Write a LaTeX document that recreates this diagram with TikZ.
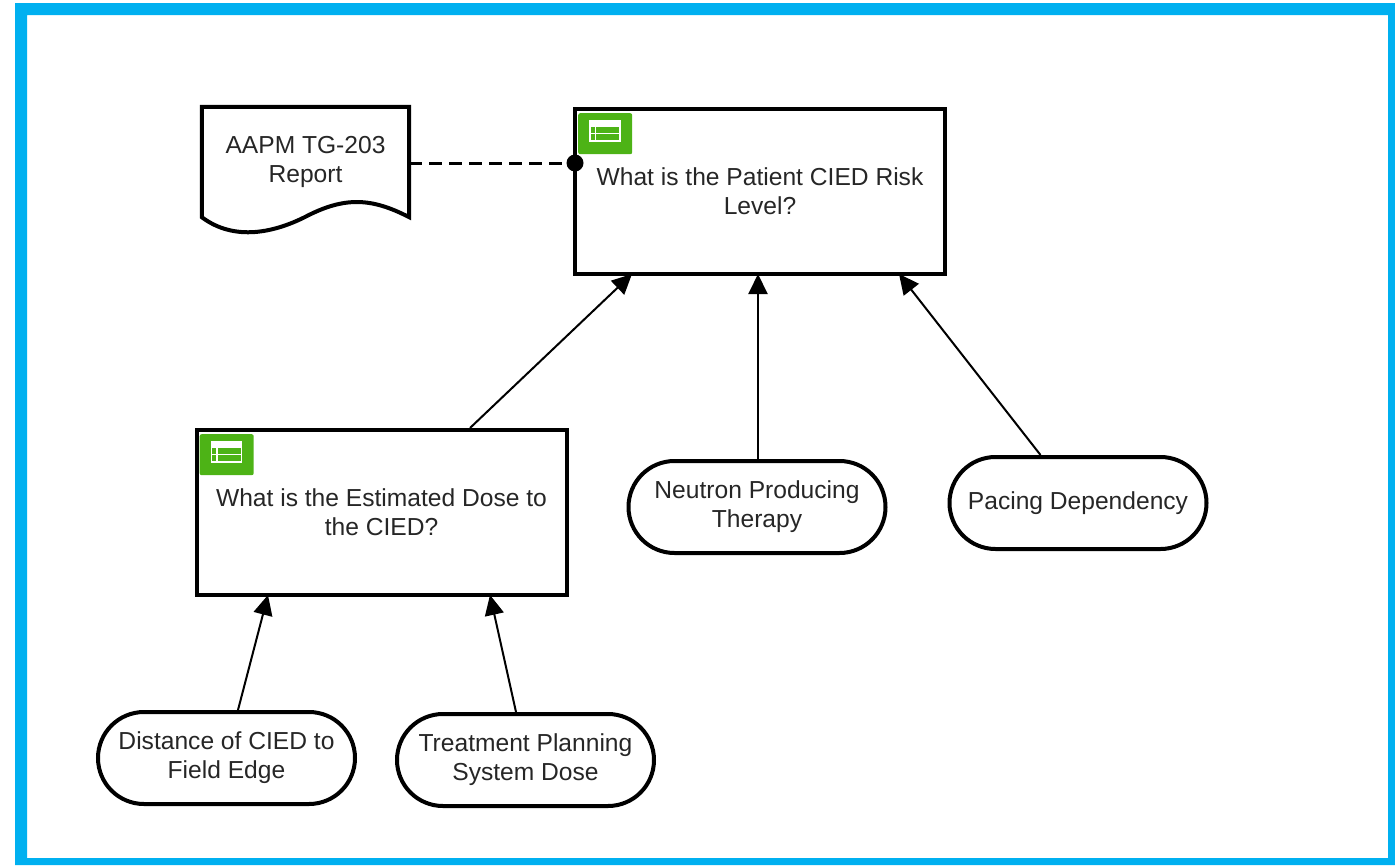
\documentclass[tikz,border=0pt]{standalone}
\usepackage{fontspec}
\setmainfont{Liberation Sans}
\usetikzlibrary{arrows.meta, positioning, calc}
\definecolor{frameblue}{HTML}{00B0F0}
\definecolor{icongreen}{HTML}{4DB316}
\definecolor{labelgray}{HTML}{262626}
\tikzset{%
	lbl/.style={text=labelgray, align=center, inner sep=0mm,%
		font=\fontsize{24.6}{29}\selectfont},
	question/.style={lbl, draw, line width=4pt, rectangle,%
		minimum width=370pt, minimum height=165pt},
	pill/.style={lbl, draw, line width=4pt, rectangle,%
		rounded corners=46pt, minimum width=257pt, minimum height=92pt},
	doc/.style={lbl, minimum width=207pt, minimum height=110pt},
	docline/.style={line width=4pt},
	iconbox/.style={fill=icongreen, rounded corners=2pt, inner sep=0mm,%
		minimum width=54pt, minimum height=41pt},
	link/.style={line width=2pt, -{Triangle[length=20pt, width=19pt]}},
	refline/.style={line width=3pt, dash pattern=on 13pt off 7pt},
	dot/.style={circle, fill=black, inner sep=0mm, minimum size=17pt}
}
% white table glyph, drawn inside a green box
\newcommand{\tableglyph}[1]{%
	\draw[white, line width=1.5pt] ([shift={(-15,-13)}]#1.center) rectangle ([shift={(15,7.5)}]#1.center);
	\fill[white] ([shift={(-15,-13)}]#1.center) rectangle ([shift={(15,-6.5)}]#1.center);
	\draw[white, line width=1.5pt] ([shift={(-15,0)}]#1.center) -- ([shift={(15,0)}]#1.center);
	\draw[white, line width=1.5pt] ([shift={(-9.5,-6.5)}]#1.center) -- ([shift={(-9.5,7.5)}]#1.center);
}

\begin{document}
\begin{tikzpicture}[x=1pt, y=-1pt]
	\useasboundingbox (0,0) rectangle (1395,865);
	\fill[frameblue, even odd rule] (15,3) rectangle (1395,865) (27,15) rectangle (1388,858);

	\node[question]                      (risk)     at (760,191.5) {What is the Patient CIED Risk\\Level?};
	\node[question]                      (dose)     at (381.5,512.5) {What is the Estimated Dose to\\the CIED?};
	\node[pill]                          (neutron)  at (757,507) {Neutron Producing\\Therapy};
	\node[pill, right=60pt of neutron, yshift=4pt] (pacing) {Pacing Dependency};
	\node[pill]                          (distance) at (226.5,758) {Distance of CIED to\\Field Edge};
	\node[pill, right=38pt of distance, yshift=-2pt] (tps) {Treatment Planning\\System Dose};
	\node[doc]                           (report)   at (305.5,162) {AAPM TG-203\\Report};
	\node[dot, xshift=2pt]               (anchor)   at (risk.west |- 0,163) {};
	\node[iconbox, anchor=north west]    (riskicon) at ([shift={(5,6)}]risk.north west) {};
	\node[iconbox, anchor=north west]    (doseicon) at ([shift={(5,6)}]dose.north west) {};
	\tableglyph{riskicon}
	\tableglyph{doseicon}

	\draw[docline] (report.south east) -- (report.north east) -- (report.north west) -- (report.south west)
		.. controls (235,242) and (275,232) .. (305,217)
		.. controls (345,196) and (372,198) .. (report.south east) -- cycle;

	\draw[refline]  (report.east |- anchor) -- (anchor);
	\draw[link]     ([xshift=88.5pt]dose.north) -- ([xshift=-128pt, yshift=2pt]risk.south);
	\draw[link]     ([xshift=1pt]neutron.north) -- ([xshift=-2pt, yshift=2pt]risk.south);
	\draw[link]     ([xshift=-37.5pt]pacing.north) -- ([xshift=139pt, yshift=2pt]risk.south);
	\draw[link]     ([xshift=11.5pt]distance.north) -- ([xshift=-113.5pt, yshift=2pt]dose.south);
	\draw[link]     ([xshift=-9.5pt]tps.north) -- ([xshift=108.5pt, yshift=2pt]dose.south);
\end{tikzpicture}
\end{document}
